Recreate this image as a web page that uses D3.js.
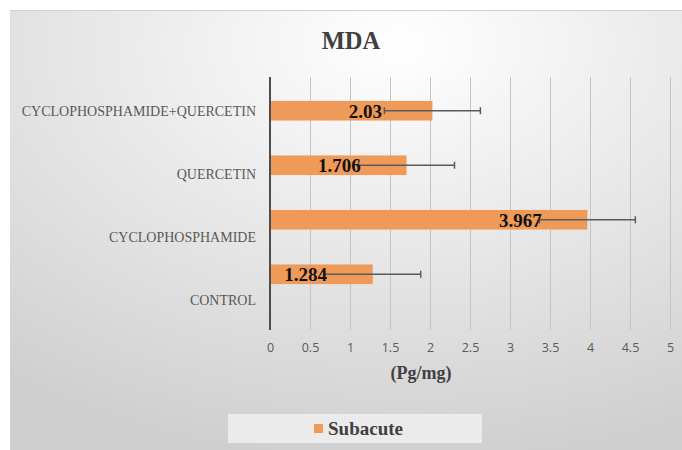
<!DOCTYPE html>
<html>
<head>
<meta charset="utf-8">
<script src="https://cdn.jsdelivr.net/npm/d3@7"></script>
<style>
  body { margin: 0; background: #fff; }
  svg { display: block; }
</style>
</head>
<body>
<div id="chart"></div>
<script>
const categories = ["CONTROL", "CYCLOPHOSPHAMIDE", "QUERCETIN", "CYCLOPHOSPHAMIDE+QUERCETIN"];
const values = [1.284, 3.967, 1.706, 2.03];
const errors = [0.6, 0.6, 0.6, 0.6];
const seriesName = "Subacute";
const title = "MDA";
const axisTitle = "(Pg/mg)";

const sirina = 682, visina = 450;
const plot = { left: 270, right: 670, top: 77, bottom: 330 };

const svg = d3.select("#chart").append("svg")
  .attr("width", sirina)
  .attr("height", visina);

const defs = svg.append("defs");
const grad = defs.append("radialGradient")
  .attr("id", "bg")
  .attr("cx", "58%").attr("cy", "8%").attr("r", "95%");
grad.append("stop").attr("offset", "0%").attr("stop-color", "#ffffff");
grad.append("stop").attr("offset", "100%").attr("stop-color", "#cfcfcf");

svg.append("rect")
  .attr("x", 10).attr("y", 10)
  .attr("width", sirina - 10).attr("height", visina - 10)
  .attr("fill", "url(#bg)");
svg.append("line")
  .attr("x1", 10).attr("x2", sirina).attr("y1", 10.5).attr("y2", 10.5)
  .attr("stroke", "#d0d0d0");

const data = categories.map((c, i) => ({ cat: c, value: values[i], err: errors[i] }));

const x = d3.scaleLinear().domain([0, 5]).range([plot.left, plot.right]);
// category labels sit on the plot bands, bars are drawn a little higher
const yCat = d3.scaleBand().domain(categories.slice().reverse()).range([plot.top, plot.bottom]);
const yBar = d3.scaleBand().domain(categories.slice().reverse()).range([plot.top - 11, plot.bottom - 11]).padding(0.64);

// gridlines
svg.append("g")
  .selectAll("line")
  .data(x.ticks(10).filter(t => t > 0))
  .join("line")
  .attr("x1", d => x(d) + 0.5).attr("x2", d => x(d) + 0.5)
  .attr("y1", plot.top).attr("y2", plot.bottom)
  .attr("stroke", "#c4c4c4")
  .attr("stroke-width", 1);

// x tick labels
const xAxis = svg.append("g")
  .attr("transform", `translate(0, ${plot.bottom + 10})`)
  .call(d3.axisBottom(x).ticks(10).tickFormat(d3.format("")).tickSize(0));
xAxis.select(".domain").remove();
xAxis.selectAll("text")
  .attr("fill", "#595959")
  .style("font-family", "'Open Sans', 'Liberation Sans', sans-serif")
  .style("font-size", "12.5px");

// category labels
svg.append("g")
  .selectAll("text")
  .data(categories)
  .join("text")
  .attr("x", 256)
  .attr("y", d => yCat(d) + yCat.bandwidth() / 2 + 2)
  .attr("dy", "0.35em")
  .attr("text-anchor", "end")
  .attr("fill", "#595959")
  .style("font-family", "'Liberation Serif', 'Times New Roman', serif")
  .style("font-size", "14px")
  .text(d => d);

// bars
svg.append("g")
  .selectAll("rect")
  .data(data)
  .join("rect")
  .attr("x", x(0))
  .attr("y", d => yBar(d.cat))
  .attr("width", d => x(d.value) - x(0))
  .attr("height", yBar.bandwidth())
  .attr("fill", "#ef9a58");

// vertical axis line
svg.append("line")
  .attr("x1", x(0)).attr("x2", x(0))
  .attr("y1", plot.top).attr("y2", plot.bottom)
  .attr("stroke", "#4d4d4d")
  .attr("stroke-width", 2);

// error bars
const eb = svg.append("g")
  .attr("stroke", "#5a5a5a")
  .attr("stroke-width", 1.5)
  .selectAll("g")
  .data(data)
  .join("g")
  .attr("transform", d => `translate(0, ${yBar(d.cat) + yBar.bandwidth() / 2})`);
eb.append("line")
  .attr("x1", d => x(d.value - d.err)).attr("x2", d => x(d.value + d.err));
eb.append("line")
  .attr("x1", d => x(d.value - d.err)).attr("x2", d => x(d.value - d.err))
  .attr("y1", -3.5).attr("y2", 3.5);
eb.append("line")
  .attr("x1", d => x(d.value + d.err)).attr("x2", d => x(d.value + d.err))
  .attr("y1", -3.5).attr("y2", 3.5);

// data labels
svg.append("g")
  .selectAll("text")
  .data(data)
  .join("text")
  .attr("x", d => x(d.value - 0.8375))
  .attr("y", d => yBar(d.cat) + yBar.bandwidth() / 2)
  .attr("dy", "0.36em")
  .attr("text-anchor", "middle")
  .attr("fill", "#111")
  .style("font-family", "'Liberation Serif', 'Times New Roman', serif")
  .style("font-weight", "bold")
  .style("font-size", "19px")
  .text(d => String(d.value));

// title
svg.append("text")
  .attr("x", 351).attr("y", 49)
  .attr("text-anchor", "middle")
  .attr("fill", "#404040")
  .style("font-family", "'Liberation Serif', 'Times New Roman', serif")
  .style("font-weight", "bold")
  .style("font-size", "24.5px")
  .text(title);

// axis title
svg.append("text")
  .attr("x", 421).attr("y", 379)
  .attr("text-anchor", "middle")
  .attr("fill", "#404040")
  .style("font-family", "'Liberation Serif', 'Times New Roman', serif")
  .style("font-weight", "bold")
  .style("font-size", "18px")
  .text(axisTitle);

// legend
const legend = svg.append("g");
legend.append("rect")
  .attr("x", 228).attr("y", 414)
  .attr("width", 254).attr("height", 29)
  .attr("fill", "#ebebeb");
legend.append("rect")
  .attr("x", 314).attr("y", 424)
  .attr("width", 9).attr("height", 9)
  .attr("fill", "#ef9a58");
legend.append("text")
  .attr("x", 328).attr("y", 428.5)
  .attr("dy", "0.35em")
  .attr("fill", "#404040")
  .style("font-family", "'Liberation Serif', 'Times New Roman', serif")
  .style("font-weight", "bold")
  .style("font-size", "19px")
  .text(seriesName);
</script>
</body>
</html>
